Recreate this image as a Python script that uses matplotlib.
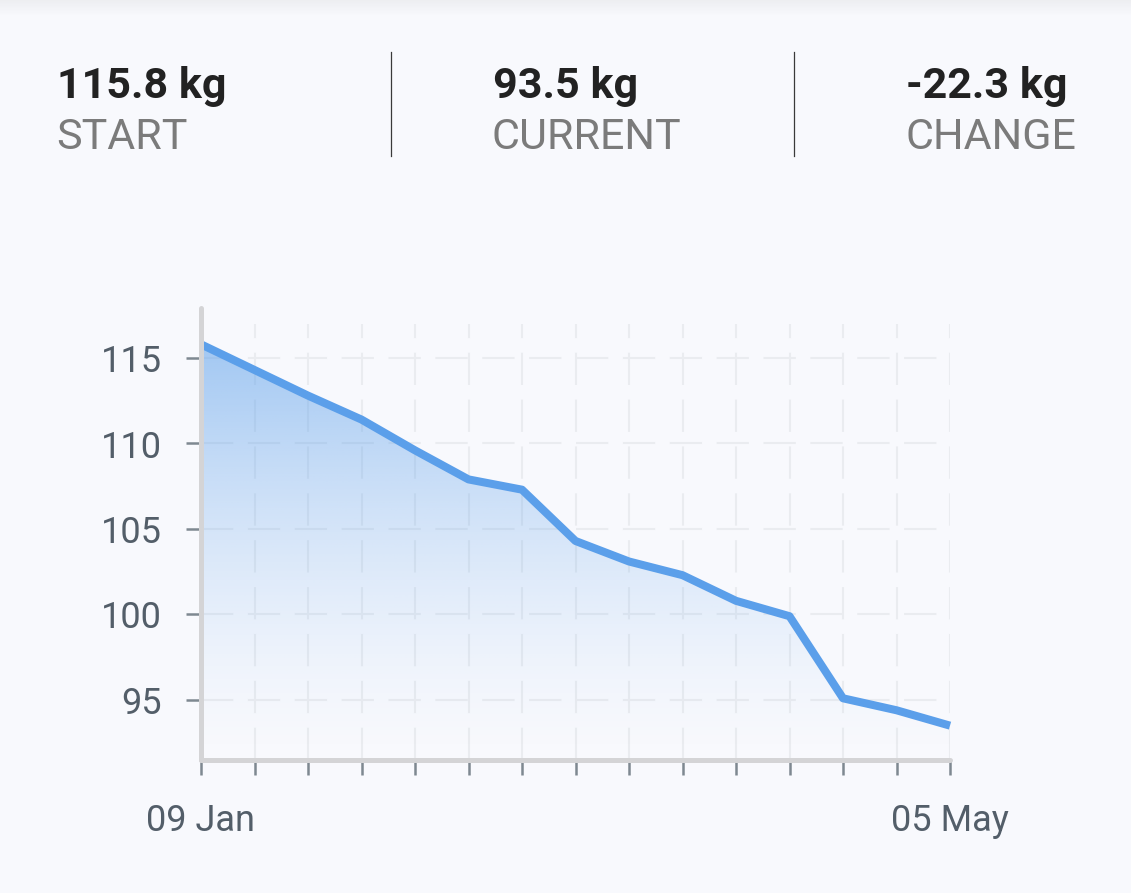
import matplotlib
matplotlib.use("Agg")
import matplotlib.pyplot as plt
import numpy as np
from matplotlib.colors import to_rgb

# --- data ---
weights = [115.8, 114.3, 112.8, 111.4, 109.6, 107.9, 107.3, 104.3,
           103.1, 102.3, 100.8, 99.9, 95.1, 94.4, 93.5]
x_tick_labels = ["09 Jan"] + [""] * 13 + ["05 May"]
y_ticks = [95, 100, 105, 110, 115]
stat_values = ["115.8 kg", "93.5 kg", "-22.3 kg"]
stat_labels = ["START", "CURRENT", "CHANGE"]

BG = "#F8F9FD"
LINE = "#5B9FEA"
GRID = "#EAECF0"
SPINE = "#D4D4D6"
TICK = "#7E8891"
LABEL = "#535E69"

plt.rcParams["font.family"] = ["Roboto", "DejaVu Sans"]

W, H = 1131, 893
fig = plt.figure(figsize=(W / 100, H / 100), dpi=100, facecolor=BG)


def fx(px):
    return px / W


def fy(py):
    return 1 - py / H


# faint shadow along the top edge
top = fig.add_axes([0, fy(16), 1, 16 / H])
shade = np.zeros((16, 2, 4))
shade[..., :3] = 0.55
shade[..., 3] = np.linspace(0.10, 0.0, 16)[:, None]
top.imshow(shade, aspect="auto", extent=[0, 1, 0, 1])
top.axis("off")

# --- header stats ---
cols = [57, 493, 906]
for x, val, lab in zip(cols, stat_values, stat_labels):
    fig.text(fx(x), fy(98), val, fontsize=31, fontweight="bold",
             color="#222222", va="baseline", ha="left")
    fig.text(fx(x - 1), fy(149), lab, fontsize=31, color="#7B7B7B",
             va="baseline", ha="left")
for x in [391, 794]:
    fig.add_artist(plt.Line2D([fx(x), fx(x)], [fy(52), fy(156)],
                              color="#3A3A3A", lw=0.9))

# --- chart ---
px_per_unit = (700 - 358) / 20
y_bottom = 115 - (760 - 358) / px_per_unit
y_top = 115 + (358 - 308) / px_per_unit
grid_top = 115 + (358 - 324) / px_per_unit

ax = fig.add_axes([fx(201), fy(760), fx(950) - fx(201), (760 - 308) / H])
ax.set_facecolor("none")
x = np.arange(len(weights))
ax.set_xlim(0, len(weights) - 1)
ax.set_ylim(y_bottom, y_top)

# dashed grid
dash = (0, (15.5, 7))
ax.hlines(y_ticks, 0, len(weights) - 1, colors=GRID, lw=1.5,
          linestyles=[dash], zorder=1)
ax.vlines(x[1:], y_bottom, grid_top, colors=GRID, lw=1.5,
          linestyles=[dash], zorder=1)

# gradient area under the line
poly = ax.fill_between(x, weights, y_bottom, color="none", lw=0)
n = 256
t = np.linspace(1, 0, n)[:, None]
grad = np.zeros((n, 2, 4))
grad[..., :3] = to_rgb(LINE)
grad[..., 3] = 0.55 * t ** 1.5
img = ax.imshow(grad, aspect="auto", extent=[0, len(weights) - 1, y_bottom, max(weights)],
                origin="upper", zorder=2, interpolation="bilinear")
img.set_clip_path(poly.get_paths()[0], transform=ax.transData)

ax.plot(x, weights, color=LINE, lw=5.8, solid_joinstyle="round",
        solid_capstyle="butt", zorder=3, clip_on=False)

# axes styling
for side in ["top", "right"]:
    ax.spines[side].set_visible(False)
for side in ["left", "bottom"]:
    ax.spines[side].set_color(SPINE)
    ax.spines[side].set_linewidth(3.6)
    ax.spines[side].set_capstyle("round")
    ax.spines[side].set_zorder(4)

ax.set_yticks(y_ticks)
ax.set_yticklabels([str(v) for v in y_ticks])
ax.set_xticks(x)
ax.set_xticklabels(x_tick_labels)
ax.tick_params(axis="y", length=11, width=1.8, color=TICK, pad=17,
               labelsize=26, labelcolor=LABEL)
ax.tick_params(axis="x", length=11, width=1.8, color=TICK, pad=20,
               labelsize=26, labelcolor=LABEL)

fig.savefig("out.png", dpi=100, facecolor=BG)
